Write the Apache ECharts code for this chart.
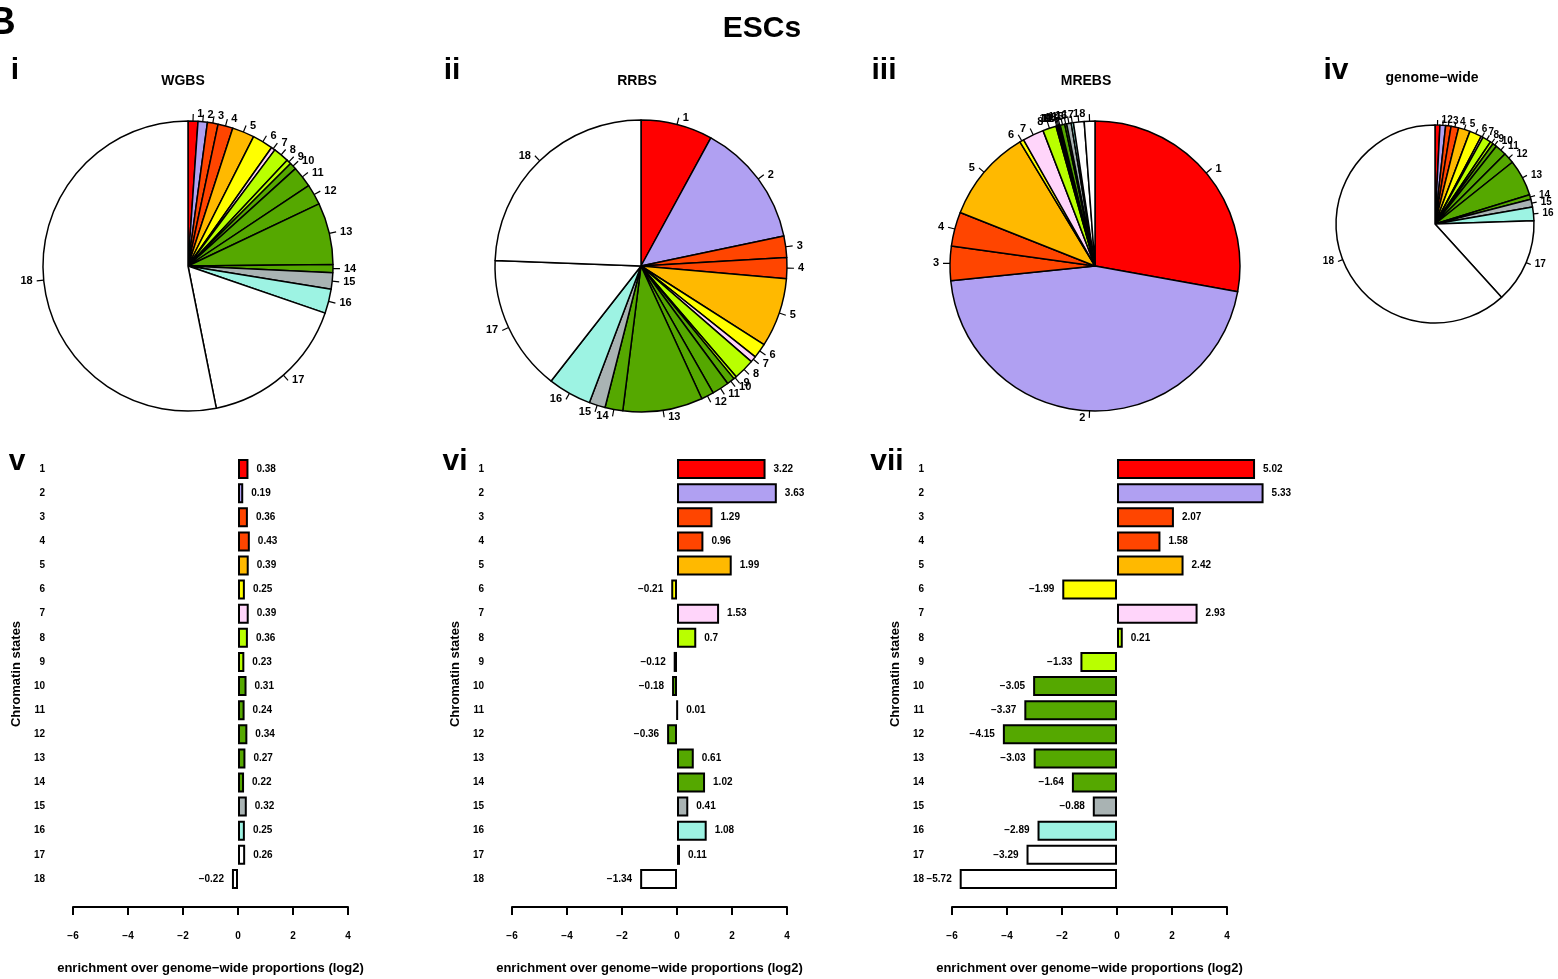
<!DOCTYPE html>
<html>
<head>
<meta charset="utf-8">
<title>ESCs chromatin states</title>
<script src="https://cdn.jsdelivr.net/npm/echarts@6/dist/echarts.min.js"></script>
<style>
  html, body { margin: 0; padding: 0; background: #fff; }
  #chart { width: 1558px; height: 979px; }
</style>
</head>
<body>
<div id="chart"></div>
<script>
// chromatin states 1..18
const states = ['1', '2', '3', '4', '5', '6', '7', '8', '9', '10', '11', '12', '13', '14', '15', '16', '17', '18']
const stateColors = ['#ff0000', '#b0a0f2', '#ff4500', '#ff4500', '#ffb900', '#ffff00', '#ffd5fa', '#b9ff00', '#b9ff00',
  '#55a800', '#55a800', '#55a800', '#55a800', '#55a800', '#a9b3b3', '#9df3e3', '#ffffff', '#ffffff']

// pie proportions (%)
const wgbsPct = [1.10, 1.04, 1.19, 1.67, 2.47, 2.31, 0.44, 1.75, 0.53, 0.78, 2.36, 2.31, 6.86, 0.92, 1.83, 2.69, 16.6, 53.1]
const rrbsPct = [7.94, 13.78, 2.36, 2.31, 7.67, 1.64, 0.67, 2.33, 0.33, 0.86, 1.89, 1.39, 8.83, 1.97, 1.78, 4.81, 15.06, 24.39]
const mrebsPct = [27.83, 45.53, 3.83, 3.81, 10.33, 0.47, 2.36, 1.5, 0.15, 0.07, 0.17, 0.09, 0.5, 0.22, 0.5, 0.25, 1.19, 1.19]
const genomePct = [0.8, 0.92, 0.88, 1.24, 1.9, 1.98, 0.34, 1.4, 0.5, 0.68, 1.85, 1.78, 5.95, 0.74, 1.3, 2.2, 13.8, 61.7]

// enrichment over genome-wide proportions (log2)
const wgbsEnr = [0.38, 0.19, 0.36, 0.43, 0.39, 0.25, 0.39, 0.36, 0.23, 0.31, 0.24, 0.34, 0.27, 0.22, 0.32, 0.25, 0.26, -0.22]
const rrbsEnr = [3.22, 3.63, 1.29, 0.96, 1.99, -0.21, 1.53, 0.7, -0.12, -0.18, 0.01, -0.36, 0.61, 1.02, 0.41, 1.08, 0.11, -1.34]
const mrebsEnr = [5.02, 5.33, 2.07, 1.58, 2.42, -1.99, 2.93, 0.21, -1.33, -3.05, -3.37, -4.15, -3.03, -1.64, -0.88, -2.89, -3.29, -5.72]

const FONT = '"Liberation Sans", Arial, Helvetica, sans-serif'
const minus = s => String(s).replace('-', '\u2212')

const chart = echarts.init(document.getElementById('chart'), null, { renderer: 'canvas' })

const makePie = (pct, cx, cy, r, fontSize, tick) => ({
  type: 'pie',
  center: [cx, cy],
  radius: [0, r],
  startAngle: 90,
  clockwise: true,
  avoidLabelOverlap: false,
  labelLayout: { hideOverlap: false },
  data: pct.map((v, i) => ({ name: states[i], value: v, itemStyle: { color: stateColors[i] } })),
  itemStyle: { borderColor: '#000', borderWidth: 1.5 },
  label: { show: true, position: 'outside', formatter: '{b}', color: '#000', fontFamily: FONT, fontWeight: 'bold', fontSize: fontSize, distanceToLabelLine: 4 },
  labelLine: { show: true, length: tick, length2: 0, smooth: false, lineStyle: { color: '#000', width: 1.2 } },
  emphasis: { disabled: true },
  silent: true
})

const gridLefts = [73, 512, 952]
const enrSets = [wgbsEnr, rrbsEnr, mrebsEnr]

const grids = gridLefts.map(l => ({ left: l, top: 457, width: 275, height: 434 }))

const xAxes = gridLefts.map((l, i) => ({
  gridIndex: i,
  type: 'value',
  min: -6,
  max: 4,
  interval: 2,
  offset: 16,
  splitLine: { show: false },
  axisLine: { show: true, onZero: false, lineStyle: { color: '#000', width: 2 } },
  axisTick: { show: true, length: 8, lineStyle: { color: '#000', width: 2 } },
  axisLabel: { margin: 24, color: '#000', fontFamily: FONT, fontWeight: 'bold', fontSize: 10, formatter: v => minus(v) },
  name: 'enrichment over genome\u2212wide proportions (log2)',
  nameLocation: 'middle',
  nameGap: 55,
  nameTextStyle: { color: '#000', fontFamily: FONT, fontWeight: 'bold', fontSize: 13 }
}))

const yAxes = gridLefts.map((l, i) => ({
  gridIndex: i,
  type: 'category',
  data: states,
  inverse: true,
  axisLine: { show: false },
  axisTick: { show: false },
  axisLabel: { margin: 28, color: '#000', fontFamily: FONT, fontWeight: 'bold', fontSize: 10 },
  name: 'Chromatin states',
  nameLocation: 'middle',
  nameRotate: 90,
  nameGap: 50,
  nameTextStyle: { color: '#000', fontFamily: FONT, fontWeight: 'bold', fontSize: 13 }
}))

const barSeries = enrSets.map((vals, i) => ({
  type: 'bar',
  xAxisIndex: i,
  yAxisIndex: i,
  barWidth: 20,
  clip: false,
  data: vals.map((v, k) => ({
    value: v,
    itemStyle: { color: stateColors[k] },
    label: { position: v >= 0 ? 'right' : 'left' }
  })),
  itemStyle: { borderColor: '#000', borderWidth: 2 },
  label: { show: true, distance: 8, color: '#000', fontFamily: FONT, fontWeight: 'bold', fontSize: 10, formatter: p => minus(p.value) },
  emphasis: { disabled: true },
  silent: true
}))

const txt = (text, x, y, size) => ({
  type: 'text', x: x, y: y,
  style: { text: text, fill: '#000', font: 'bold ' + size + 'px ' + FONT, textAlign: 'center', textVerticalAlign: 'middle' }
})

const option = {
  animation: false,
  backgroundColor: '#fff',
  graphic: [
    txt('B', 2, 24, 38),
    txt('ESCs', 762, 29, 30),
    txt('i', 15, 71, 30),
    txt('ii', 452, 71, 30),
    txt('iii', 884, 71, 30),
    txt('iv', 1336, 71, 30),
    txt('v', 17, 462, 30),
    txt('vi', 455, 462, 30),
    txt('vii', 887, 462, 30),
    txt('WGBS', 183, 81, 14),
    txt('RRBS', 637, 81, 14),
    txt('MREBS', 1086, 81, 14),
    txt('genome\u2212wide', 1432, 78, 14)
  ],
  grid: grids,
  xAxis: xAxes,
  yAxis: yAxes,
  series: [
    makePie(wgbsPct, 188, 266, 145, 11, 7),
    makePie(rrbsPct, 641, 266, 146, 11, 7),
    makePie(mrebsPct, 1095, 266, 145, 11, 7),
    makePie(genomePct, 1435, 224, 99, 10, 5),
    ...barSeries
  ]
}

chart.setOption(option)
</script>
</body>
</html>
